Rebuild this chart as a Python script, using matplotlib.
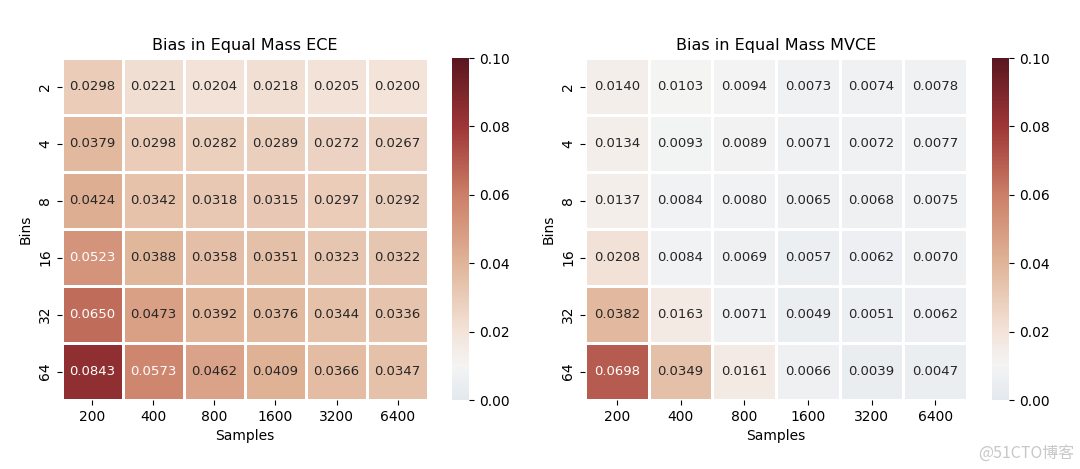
import matplotlib
matplotlib.use('Agg')
import matplotlib.pyplot as plt
import numpy as np
import seaborn as sns
from matplotlib.colors import LinearSegmentedColormap

samples = ['200', '400', '800', '1600', '3200', '6400']
bins = ['2', '4', '8', '16', '32', '64']

ece = [[0.0298, 0.0221, 0.0204, 0.0218, 0.0205, 0.0200],
       [0.0379, 0.0298, 0.0282, 0.0289, 0.0272, 0.0267],
       [0.0424, 0.0342, 0.0318, 0.0315, 0.0297, 0.0292],
       [0.0523, 0.0388, 0.0358, 0.0351, 0.0323, 0.0322],
       [0.0650, 0.0473, 0.0392, 0.0376, 0.0344, 0.0336],
       [0.0843, 0.0573, 0.0462, 0.0409, 0.0366, 0.0347]]

mvce = [[0.0140, 0.0103, 0.0094, 0.0073, 0.0074, 0.0078],
        [0.0134, 0.0093, 0.0089, 0.0071, 0.0072, 0.0077],
        [0.0137, 0.0084, 0.0080, 0.0065, 0.0068, 0.0075],
        [0.0208, 0.0084, 0.0069, 0.0057, 0.0062, 0.0070],
        [0.0382, 0.0163, 0.0071, 0.0049, 0.0051, 0.0062],
        [0.0698, 0.0349, 0.0161, 0.0066, 0.0039, 0.0047]]

# colormap (0.00 -> 0.10)
cmap = LinearSegmentedColormap.from_list('bias', [
    (0.0, '#e3e9ee'), (0.1, '#f4f4f4'), (0.2, '#f3e3d9'), (0.4, '#e0b498'),
    (0.6, '#cc7f68'), (0.8, '#9e3636'), (1.0, '#5a1620')])

fig = plt.figure(figsize=(10.8, 4.69), dpi=100)
ax1 = fig.add_axes([0.0574, 0.1471, 0.3389, 0.7292])
cax1 = fig.add_axes([0.4185, 0.1471, 0.0157, 0.7292])
ax2 = fig.add_axes([0.5417, 0.1471, 0.3537, 0.7292])
cax2 = fig.add_axes([0.9185, 0.1471, 0.0157, 0.7292])

for ax, cax, data, title in [(ax1, cax1, ece, 'Bias in Equal Mass ECE'),
                             (ax2, cax2, mvce, 'Bias in Equal Mass MVCE')]:
    sns.heatmap(np.array(data), ax=ax, cbar_ax=cax, cmap=cmap, vmin=0, vmax=0.1,
                annot=True, fmt='.4f', annot_kws={'fontsize': 9.5},
                linewidths=0.8, linecolor='white',
                xticklabels=samples, yticklabels=bins,
                cbar_kws={'ticks': [0, 0.02, 0.04, 0.06, 0.08, 0.1], 'format': '%.2f'})
    ax.set_title(title, fontsize=11.5)
    ax.set_xlabel('Samples', fontsize=10)
    ax.set_ylabel('Bins', fontsize=10)
    ax.tick_params(labelsize=10)
    plt.setp(ax.get_yticklabels(), rotation=90, va='center')
    plt.setp(ax.get_xticklabels(), rotation=0)
    cax.tick_params(labelsize=10)

fig.text(0.995, 0.015, '@51CTO博客', ha='right', va='bottom', fontsize=11.5, color='#c8c8c8',
         family=['Noto Sans CJK SC', 'DejaVu Sans'])

fig.savefig('out.png', dpi=100)
